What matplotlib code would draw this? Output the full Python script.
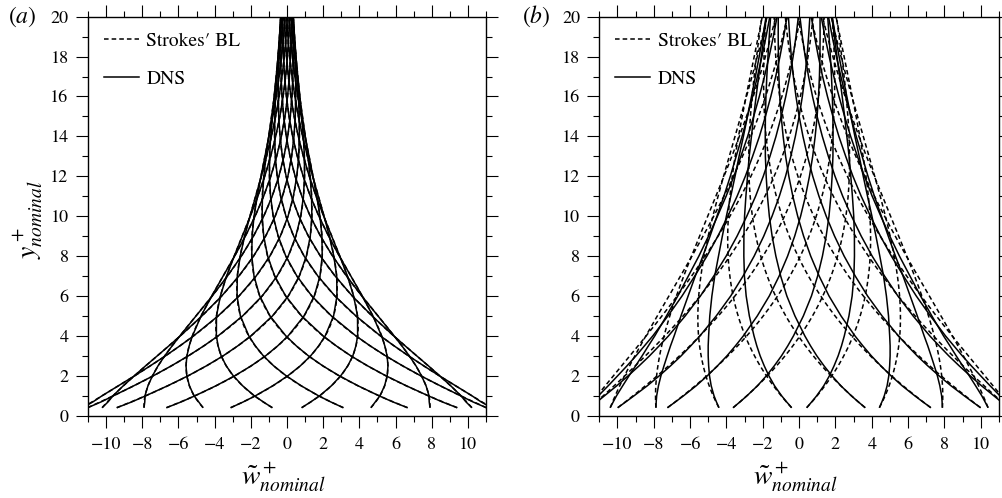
import numpy as np
import matplotlib
matplotlib.use("Agg")
import matplotlib.pyplot as plt
from matplotlib.ticker import MultipleLocator
from matplotlib.lines import Line2D

plt.rcParams["font.family"] = ["STIXGeneral", "DejaVu Serif"]
plt.rcParams["mathtext.fontset"] = "stix"
plt.rcParams["axes.unicode_minus"] = True

# Wall oscillation: amplitude W+ and periods T+ of panels (a) and (b)
wall_amplitude = 12.2
periods = [100.0, 400.0]
panel_tags = ["a", "b"]

# Phases of the oscillation cycle at which profiles are shown (degrees)
phase_deg = [10, 30, 50, 70, 90, 110, 130, 150, 170,
             190, 210, 230, 250, 270, 290, 310, 330, 350]

y_wall, y_top = 0.4, 20.0

# DNS phase-averaged profiles: amplitude and phase lag versus y+
y_dns = [0.4, 0.7, 1.0, 1.5, 2.0, 2.5, 3.0, 3.5, 4.0, 5.0, 6.0, 7.0, 8.0,
         9.0, 10.0, 11.0, 12.0, 13.0, 14.0, 15.0, 16.0, 17.0, 18.0, 19.0, 20.0]
amp_dns_a = [11.36, 10.73, 10.22, 9.36, 8.56, 7.84, 7.17, 6.56, 6.00, 5.03, 4.21,
             3.53, 2.95, 2.47, 2.07, 1.73, 1.45, 1.22, 1.02, 0.85, 0.715, 0.60,
             0.50, 0.42, 0.35]
lag_dns_a = [4.1, 7.1, 10.2, 15.2, 20.3, 25.4, 30.5, 35.5, 40.6, 50.8, 61.0, 71.1,
             81.3, 91.4, 101.6, 111.7, 121.9, 132.1, 142.2, 152.4, 162.5, 172.7,
             182.9, 193.0, 203.2]
amp_dns_b = [11.78, 11.43, 11.09, 10.52, 9.99, 9.48, 9.00, 8.56, 8.13, 7.38, 6.70,
             6.10, 5.53, 5.03, 4.58, 4.16, 3.79, 3.47, 3.16, 2.89, 2.64, 2.41,
             2.20, 2.01, 1.84]
lag_dns_b = [2.0, 3.5, 5.0, 7.4, 9.6, 11.7, 13.8, 15.8, 17.8, 21.8, 25.8, 29.6,
             33.4, 37.2, 41.0, 44.8, 48.6, 52.4, 56.2, 60.0, 63.8, 67.6, 71.3,
             75.0, 78.7]
amp_dns = [amp_dns_a, amp_dns_b]
lag_dns = [lag_dns_a, lag_dns_b]

x_ticks = [-10, -8, -6, -4, -2, 0, 2, 4, 6, 8, 10]
y_ticks = [0, 2, 4, 6, 8, 10, 12, 14, 16, 18, 20]

W, H = 1003, 498
fig = plt.figure(figsize=(W / 100, H / 100), dpi=100)

axes_px = [(88, 486), (599.3, 999)]
tag_px = [8, 522]
top_px, bot_px = 16.7, 415.7

fs = 13
lw = 1.1
dash = (0, (3.0, 2.0))

for i, (x0, x1) in enumerate(axes_px):
    ax = fig.add_axes([x0 / W, 1 - bot_px / H, (x1 - x0) / W, (bot_px - top_px) / H])

    # Stokes' second problem: analytic laminar solution
    delta = np.sqrt(periods[i] / np.pi)
    y = np.linspace(y_wall, y_top, 500)
    for ph in phase_deg:
        w = wall_amplitude * np.exp(-y / delta) * np.cos(np.radians(ph) - y / delta)
        ax.plot(w, y, color="black", lw=lw, linestyle=dash)

    # DNS profiles
    yd = np.array(y_dns)
    amp = np.array(amp_dns[i])
    lag = np.radians(np.array(lag_dns[i]))
    for ph in phase_deg:
        w = amp * np.cos(np.radians(ph) - lag)
        ax.plot(w, yd, color="black", lw=lw, solid_capstyle="butt")

    ax.set_xlim(-11, 11)
    ax.set_ylim(0, 20)
    ax.set_xticks(x_ticks)
    ax.set_yticks(y_ticks)
    ax.xaxis.set_minor_locator(MultipleLocator(1))
    ax.yaxis.set_minor_locator(MultipleLocator(1))
    ax.tick_params(which="both", direction="out", width=0.8, labelsize=fs,
                   top=True, right=True)
    ax.tick_params(axis="y", which="major", length=8.4, pad=5.5)
    ax.tick_params(axis="y", which="minor", length=4.3)
    ax.tick_params(axis="x", which="major", length=8.4, pad=7)
    ax.tick_params(axis="x", which="minor", length=4.3)
    for sp in ax.spines.values():
        sp.set_linewidth(1.0)

    handles = [Line2D([], [], color="black", lw=lw, linestyle=dash),
               Line2D([], [], color="black", lw=lw)]
    ax.legend(handles, ["Strokes\u2032 BL", "DNS"], loc="upper left",
              frameon=False, fontsize=fs + 1, handlelength=1.8, handletextpad=0.4,
              labelspacing=1.05, borderaxespad=0.4)

    xc = (x0 + x1) / 2
    fig.text(xc / W - 0.004, 1 - 477 / H, r"$\tilde{w}^+_{nominal}$", fontsize=20,
             ha="center", va="center")
    fig.text(tag_px[i] / W, 1 - top_px / H, "(" + r"$%s$" % panel_tags[i] + ")",
             fontsize=17, ha="left", va="center")

fig.text(28 / W, 1 - 220 / H, r"$y^+_{nominal}$", fontsize=20,
         rotation=90, ha="center", va="center")

fig.savefig("out.png", dpi=100)
